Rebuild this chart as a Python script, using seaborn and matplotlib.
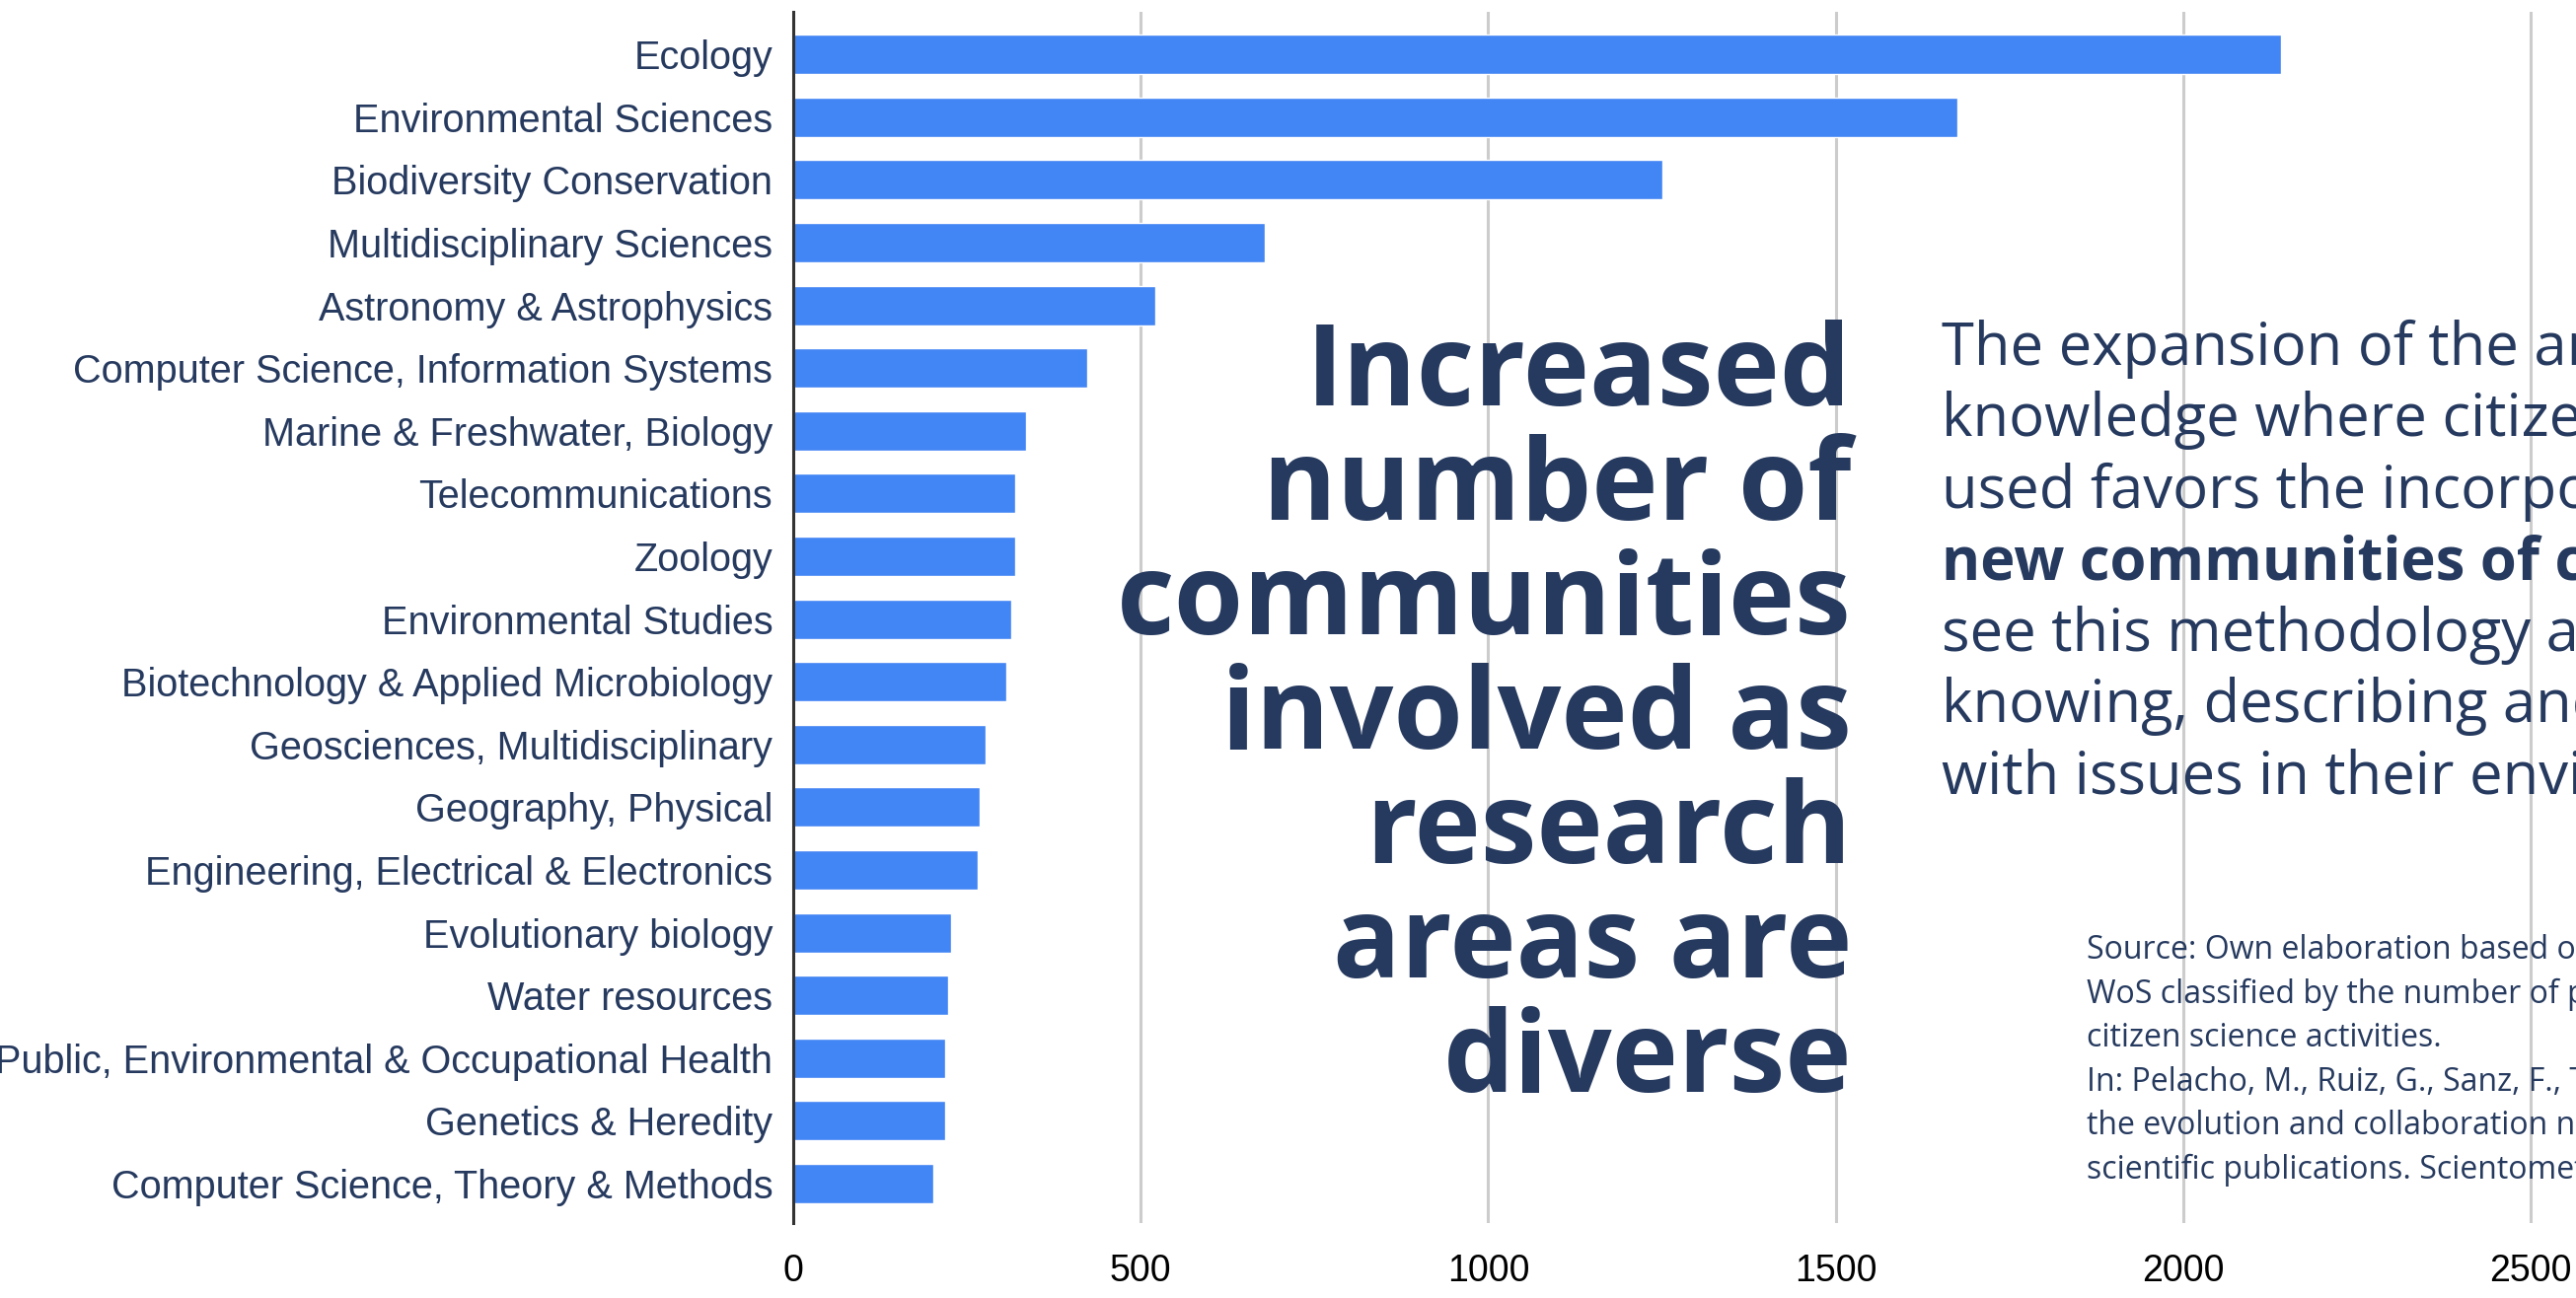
import matplotlib
matplotlib.use("Agg")
import matplotlib.pyplot as plt
import seaborn as sns
import pandas as pd

# research areas and number of citizen-science publications
categories = [
    "Ecology",
    "Environmental Sciences",
    "Biodiversity Conservation",
    "Multidisciplinary Sciences",
    "Astronomy & Astrophysics",
    "Computer Science, Information Systems",
    "Marine & Freshwater, Biology",
    "Telecommunications",
    "Zoology",
    "Environmental Studies",
    "Biotechnology & Applied Microbiology",
    "Geosciences, Multidisciplinary",
    "Geography, Physical",
    "Engineering, Electrical & Electronics",
    "Evolutionary biology",
    "Water resources",
    "Public, Environmental & Occupational Health",
    "Genetics & Heredity",
    "Computer Science, Theory & Methods",
]
counts = [2140, 1675, 1250, 678, 521, 423, 335, 319, 319, 314,
          307, 277, 269, 265, 227, 223, 219, 219, 202]
x_ticks = [0, 500, 1000, 1500, 2000, 2500]

headline = ["Increased", "number of", "communities", "involved as",
            "research", "areas are", "diverse"]
paragraph = ["The expansion of the areas of",
             "knowledge where citizen science is",
             "used favors the incorporation of",
             "new communities of citizens who",
             "see this methodology as a way of",
             "knowing, describing and engaging",
             "with issues in their environment."]
bold_line = 3
source = ["Source: Own elaboration based on data from",
          "WoS classified by the number of publications on",
          "citizen science activities.",
          "In: Pelacho, M., Ruiz, G., Sanz, F., Tarancón, A.",
          "the evolution and collaboration networks of",
          "scientific publications. Scientometrics"]

df = pd.DataFrame({"area": categories, "count": counts})

navy = "#263a5f"
blue = "#4285f4"
W, H = 2611, 1316

sns.set_style("white")
plt.rcParams["font.family"] = ["Liberation Sans", "DejaVu Sans"]

fig = plt.figure(figsize=(W / 100, H / 100), dpi=100)
ax = fig.add_axes([804 / W, 1 - 1240 / H, 1902 / W, (1240 - 12) / H])

sns.barplot(data=df, x="count", y="area", orient="h", color=blue,
            saturation=1, width=0.63, ax=ax)

ax.set_xlim(0, 2700)
ax.set_ylim(18.63, -0.68)
ax.set_xticks(x_ticks)
ax.set_xticklabels([str(t) for t in x_ticks])
ax.grid(axis="x", color="#cccccc", linewidth=2.2)
ax.grid(axis="y", visible=False)
ax.set_axisbelow(True)
for s in ["top", "right", "bottom"]:
    ax.spines[s].set_visible(False)
ax.spines["left"].set_color("#333333")
ax.spines["left"].set_linewidth(2.2)
ax.set_xlabel("")
ax.set_ylabel("")
ax.tick_params(axis="y", length=0, pad=15, labelsize=28.5, labelcolor=navy)
ax.tick_params(axis="x", length=0, pad=22, labelsize=27, labelcolor="black")

# big headline, right aligned
for i, line in enumerate(headline):
    fig.text(1877 / W, 1 - (411 + i * 116) / H, line, ha="right", va="baseline",
             fontsize=82, fontweight="bold", color=navy, family="Open Sans")

# descriptive paragraph (clipped by the figure edge)
for i, line in enumerate(paragraph):
    fig.text(1968 / W, 1 - (370 + i * 72.4) / H, line, ha="left", va="baseline",
             fontsize=43, color=navy, family="Open Sans",
             fontweight="bold" if i == bold_line else "normal")

# source note
for i, line in enumerate(source):
    fig.text(2115 / W, 1 - (972 + i * 44.6) / H, line, ha="left", va="baseline",
             fontsize=23, color=navy, family="Open Sans")

fig.savefig("out.png", dpi=100)
